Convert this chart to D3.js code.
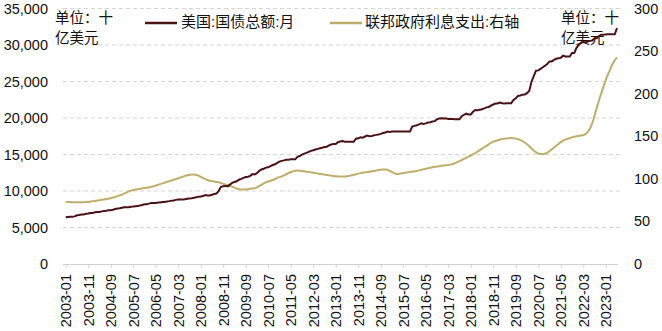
<!DOCTYPE html>
<html><head><meta charset="utf-8">
<script src="https://cdn.jsdelivr.net/npm/d3@7"></script>
<style>body{margin:0;background:#fff}svg{display:block}</style>
</head><body><svg id="c" width="662" height="331"></svg>
<script>
// ---- data (billions USD), monthly from 2003-01 ----
const startYear = 2003, startMonth = 1;
const debt = [
  6401,6445,6460,6460,6525,6670,6720,6780,6783,6870,6925,6998,
  7000,7080,7131,7130,7210,7274,7300,7360,7379,7430,7525,7596,
  7628,7713,7776,7770,7777,7836,7863,7918,7933,8027,8092,8170,
  8196,8270,8371,8353,8368,8420,8421,8485,8507,8567,8613,8680,
  8707,8786,8849,8831,8836,8867,8932,8969,9008,9082,9150,9229,
  9238,9302,9437,9398,9388,9492,9585,9645,10025,10574,10661,10700,
  10633,10877,11127,11238,11335,11545,11670,11807,11910,11962,12080,12311,
  12278,12439,12773,12947,13050,13202,13238,13392,13561,13666,13860,14025,
  14131,14195,14270,14290,14345,14343,14342,14684,14790,14973,15112,15222,
  15356,15497,15582,15685,15771,15856,15931,16016,16066,16262,16370,16433,
  16433,16688,16771,16829,16739,16738,16738,16738,16738,17156,17217,17352,
  17293,17463,17601,17508,17517,17632,17687,17749,17824,17937,18005,18141,
  18082,18156,18152,18152,18153,18152,18151,18151,18151,18153,18827,18922,
  19012,19126,19264,19187,19265,19381,19428,19511,19573,19805,19948,19977,
  19937,19959,19846,19846,19846,19845,19845,19844,20245,20442,20590,20493,
  20494,20856,21090,21069,21145,21195,21313,21458,21516,21702,21850,21974,
  21982,22115,22028,21989,22028,22023,22023,22464,22719,23008,23076,23201,
  23223,23410,23687,24974,25747,26477,26525,26728,26945,27164,27392,27748,
  27755,27962,28132,28170,28240,28530,28427,28430,28428,28908,28908,29617,
  30012,30292,30401,30371,30471,30568,30614,30927,30929,31238,31419,31420,
  31455,31459,31458,31458,31464,32332
];
const interest = [
  72.8,72.8,72.8,72.4,72.4,72.4,72.4,72.4,72.4,72.8,72.8,73.3,
  73.7,74.1,74.6,75,75.4,75.8,76.3,76.7,77.1,78,78.8,79.7,
  80.6,81.4,82.7,84,85.3,86.1,87,87.4,87.8,88.3,88.7,89.1,
  89.6,90,90.4,91.3,92.1,93,93.8,94.7,95.6,96.4,97.3,98.1,
  99,99.8,100.7,101.6,102.4,103.3,104.1,104.6,105,105,104.6,103.7,
  102.4,101.1,99.8,98.6,97.7,97.3,96.8,96.4,96,95.1,94.3,93.4,
  92.6,91.7,90.8,89.6,88.7,87.8,87.4,87.4,87.4,87.8,88.3,88.7,
  89.1,90,91.3,93,94.7,96,96.8,97.7,98.6,99.8,101.1,102,
  102.8,104.1,105.4,106.7,108,108.8,109.5,109.7,109.5,109.3,108.8,108.4,
  108,107.6,107.1,106.7,106.3,105.8,105.4,105,104.6,104.1,103.7,103.3,
  103,102.8,102.7,102.7,102.8,103.1,103.5,104.1,104.7,105.4,106.1,106.7,
  107.1,107.6,108,108.4,108.8,109.3,109.9,110.4,110.7,111,111,110.6,
  109.3,108,106.7,105.8,105.8,106.3,106.7,107.1,107.6,108,108.4,108.8,
  109.3,109.9,110.6,111.2,111.8,112.4,113.1,113.6,114,114.4,114.8,115.3,
  115.7,116,116.2,116.7,117.4,118.3,119.6,120.8,122.1,123.4,124.7,126,
  127.3,128.6,130.3,132,133.7,135.4,137.1,138.8,140.5,142.3,143.5,144.4,
  145.3,146.1,146.8,147.2,147.4,147.7,147.8,147.7,147.2,146.5,145.5,144.4,
  142.7,140.5,138.4,135.8,133.3,131.1,129.8,129.1,129,129.4,130.7,132.4,
  134.5,136.7,138.8,141,143.1,144.8,146.1,147,147.8,148.7,149.4,150,
  150.4,150.8,151.4,152.5,155.1,159.4,165.4,174,183.4,192,200.5,208.3,
  216,222.8,228.8,234.8,239.1,242.5
];
const leftTicks = [0,5000,10000,15000,20000,25000,30000,35000];
const rightTicks = [0,50,100,150,200,250,300];
const xTickLabels = ["2003-01","2003-11","2004-09","2005-07","2006-05","2007-03","2008-01","2008-11","2009-09","2010-07","2011-05","2012-03","2013-01","2013-11","2014-09","2015-07","2016-05","2017-03","2018-01","2018-11","2019-09","2020-07","2021-05","2022-03","2023-01"];
const seriesNames = ["美国:国债总额:月","联邦政府利息支出:右轴"];
const unitLines = ["单位：十","亿美元"];
const colors = ["#4a1214","#bfae6b"];

// ---- build ----
const months = debt.map((d,i)=>{const t=startMonth-1+i;return `${startYear+Math.floor(t/12)}-${String(t%12+1).padStart(2,"0")}`;});
const svg = d3.select("#c");
const latin = "'Liberation Sans', Arial, sans-serif";
const cjk = "'Liberation Sans', 'Noto Sans CJK SC', sans-serif";
const x = d3.scalePoint().domain(months).range([65.7,617]);
const yL = d3.scaleLinear().domain([0,35000]).range([264,8.5]);
const yR = d3.scaleLinear().domain([0,300]).range([264,8.5]);

// gridlines
svg.append("g").selectAll("line").data(leftTicks.filter(d=>d>0)).join("line")
  .attr("x1",63).attr("x2",623).attr("y1",d=>yL(d)).attr("y2",d=>yL(d))
  .attr("stroke","#d4d4d4").attr("stroke-width",1).attr("stroke-dasharray","4,3");

// left axis labels
const fmt = d3.format(",");
svg.append("g").selectAll("text").data(leftTicks).join("text")
  .attr("x",48).attr("y",d=>yL(d)).attr("dy","0.35em").attr("text-anchor","end")
  .attr("font-family",latin).attr("font-size",14.5).attr("fill","#111")
  .text(d=>fmt(d));
// right axis labels
svg.append("g").selectAll("text").data(rightTicks).join("text")
  .attr("x",634).attr("y",d=>yR(d)).attr("dy","0.35em").attr("text-anchor","start")
  .attr("font-family",latin).attr("font-size",14.5).attr("fill","#111")
  .text(d=>d);

// bottom axis
const xAxis = d3.axisBottom(x).tickValues(xTickLabels).tickSize(4).tickSizeOuter(0);
const gx = svg.append("g").attr("transform","translate(0,264)").call(xAxis);
gx.select(".domain").attr("stroke","#d0d0d0").attr("d","M63,0.5H618");
gx.selectAll(".tick line").attr("stroke","#d0d0d0");
gx.selectAll("text").attr("transform","rotate(-90)").attr("text-anchor","end")
  .attr("x",-10).attr("y",0).attr("dy","0.35em")
  .attr("font-family",latin).attr("font-size",14.5).attr("fill","#111");

// unit labels
[[55],[561]].forEach(([ux])=>{
  unitLines.forEach((t,i)=>{
    svg.append("text").attr("x",ux).attr("y",18+i*20).attr("dy","0.35em")
      .attr("font-family",cjk).attr("font-size",14.5).attr("fill","#111").text(t);
  });
});

// legend
const legend = [[145,181],[330,365]];
legend.forEach(([lx,tx],i)=>{
  svg.append("line").attr("x1",lx).attr("x2",lx+32).attr("y1",23).attr("y2",23)
    .attr("stroke",colors[i]).attr("stroke-width",2.5);
  svg.append("text").attr("x",tx).attr("y",21.5).attr("dy","0.35em")
    .attr("font-family",cjk).attr("font-size",15).attr("fill","#111").text(seriesNames[i]);
});

// lines
svg.append("path").datum(interest)
  .attr("fill","none").attr("stroke",colors[1]).attr("stroke-width",2)
  .attr("d",d3.line().x((d,i)=>x(months[i])).y(d=>yR(d)).curve(d3.curveMonotoneX));
svg.append("path").datum(debt)
  .attr("fill","none").attr("stroke",colors[0]).attr("stroke-width",2)
  .attr("d",d3.line().x((d,i)=>x(months[i])).y(d=>yL(d)));
</script></body></html>
